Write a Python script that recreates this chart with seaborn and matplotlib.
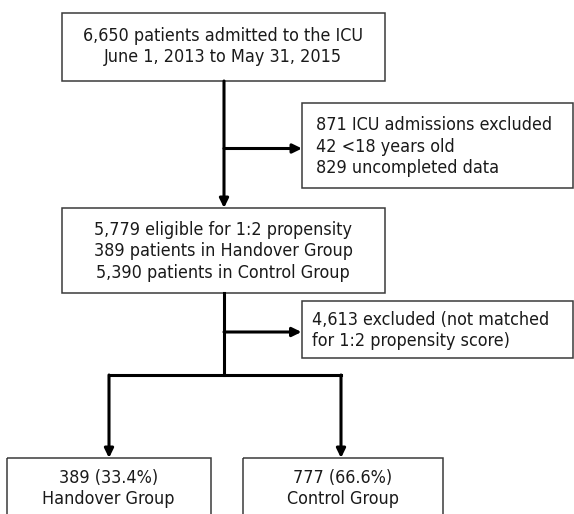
import matplotlib
matplotlib.use('Agg')
import matplotlib.pyplot as plt
import seaborn as sns
from matplotlib.patches import Rectangle
from matplotlib import font_manager

# box texts, top to bottom
admitted = ["6,650 patients admitted to the ICU", "June 1, 2013 to May 31, 2015"]
excluded_1 = ["871 ICU admissions excluded", "42 <18 years old", "829 uncompleted data"]
eligible = ["5,779 eligible for 1:2 propensity", "389 patients in Handover Group",
            "5,390 patients in Control Group"]
excluded_2 = ["4,613 excluded (not matched", "for 1:2 propensity score)"]
handover = ["389 (33.4%)", "Handover Group"]
control = ["777 (66.6%)", "Control Group"]

sns.set_theme(style='white')

# prefer a narrow sans if one is installed
narrow = [f.fname for f in font_manager.fontManager.ttflist
          if ('Narrow' in f.fname or 'Condensed' in f.fname)
          and 'Bold' not in f.fname and 'Italic' not in f.fname
          and 'Oblique' not in f.fname and 'Mono' not in f.fname
          and 'Serif' not in f.fname]
if narrow:
    FP = font_manager.FontProperties(fname=sorted(narrow)[0])
else:
    FP = font_manager.FontProperties(family=['Roboto', 'DejaVu Sans'])

fig = plt.figure(figsize=(5.74, 5.14), dpi=100)
ax = fig.add_axes([0, 0, 1, 1])
ax.set_xlim(0, 574)
ax.set_ylim(514, 0)
ax.axis('off')

# size the font so the first line is as wide as in the reference (~280 px)
probe = ax.text(0, 0, admitted[0], fontproperties=FP, fontsize=10)
fig.canvas.draw()
w = probe.get_window_extent().width
probe.remove()
FS = 10 * 280 / w

LINE = 21.5
TXT = '#1a1a1a'


def box(x0, y0, x1, y1, lines, align='center', tx=None, ty=None):
    ax.add_patch(Rectangle((x0, y0), x1 - x0, y1 - y0, fill=False,
                           edgecolor='#3a3a3a', lw=1.1, clip_on=True))
    if ty is None:
        ty = (y0 + y1) / 2 - (len(lines) - 1) * LINE / 2
    if tx is None:
        tx = (x0 + x1) / 2 if align == 'center' else x0 + 14
    for i, t in enumerate(lines):
        ax.text(tx, ty + i * LINE, t, ha=align, va='center', fontsize=FS,
                fontproperties=FP, color=TXT)


def arrow(x0, y0, x1, y1):
    ax.annotate('', xy=(x1, y1), xytext=(x0, y0),
                arrowprops=dict(arrowstyle='-|>,head_length=0.45,head_width=0.22',
                                color='black', lw=2.2, shrinkA=0, shrinkB=0))


def line(xs, ys):
    ax.plot(xs, ys, color='black', lw=2.2, solid_capstyle='projecting')


box(61.5, 12.7, 384.5, 81, admitted, ty=36)
box(302, 103, 573, 188, excluded_1, align='left', tx=316, ty=125)
box(61.5, 208, 384.5, 293, eligible, ty=230)
box(302, 301, 573, 358, excluded_2, align='left', tx=312, ty=320)
box(7, 458, 210.5, 540, handover, ty=478)
box(242.5, 458, 443, 540, control, ty=478)

# trunk 1
arrow(224, 81, 224, 208)
arrow(224, 148.5, 302, 148.5)
# trunk 2
line([224, 224], [293, 375])
arrow(224, 332, 301.5, 332)
line([109, 341], [375, 375])
arrow(109, 375, 109, 458)
arrow(341, 375, 341, 458)

fig.savefig('out.png', dpi=100)
